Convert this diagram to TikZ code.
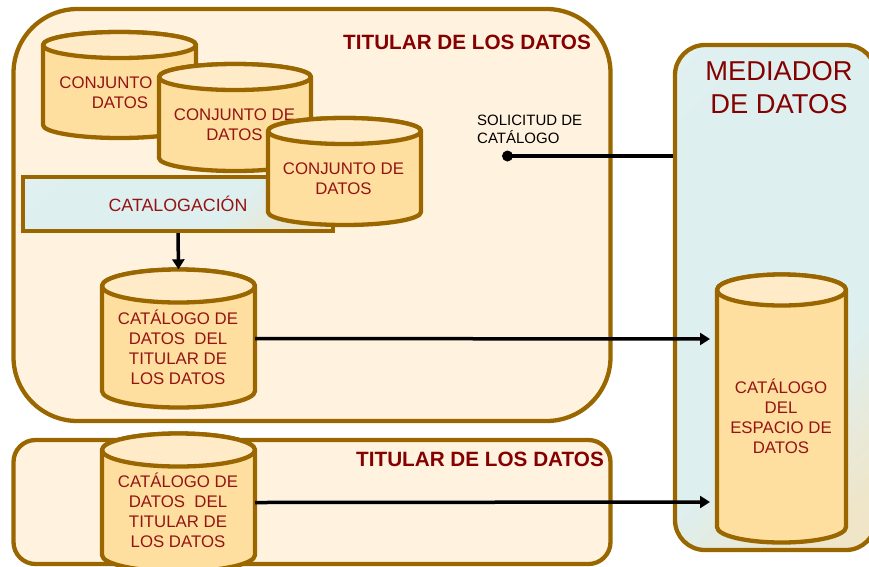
\documentclass[tikz,border=0pt]{standalone}
\usepackage{fontspec}
\setmainfont{Liberation Sans}
\definecolor{edge}{HTML}{996600}
\definecolor{holder}{HTML}{FFF3DF}
\definecolor{cylbody}{HTML}{FFDFA0}
\definecolor{cyltop}{HTML}{FFEBC8}
\definecolor{txt}{HTML}{941414}
\definecolor{head}{HTML}{850000}
\definecolor{tanA}{HTML}{F8E2B0}
\definecolor{tanB}{HTML}{EEE6CC}
\definecolor{tealB}{HTML}{DEEFEF}
\definecolor{tealA}{HTML}{E6F4F5}
\pgfdeclareverticalshading{tealtan}{100bp}{%
  color(0bp)=(tanA);color(22bp)=(tanB);color(38bp)=(tealB);color(75bp)=(tealB);color(100bp)=(tealA)}
\usetikzlibrary{arrows.meta}
\tikzset{
  x=1pt,y=-1pt,
  box/.style={draw=edge,line width=4.3pt,inner sep=0pt,anchor=center},
  holderbox/.style={box,fill=holder},
  tealbox/.style={box,shading=tealtan,shading angle=45},
  cyltext/.style={text=txt,font=\fontsize{16.8}{20}\selectfont,align=center,inner sep=0pt},
  cyloutline/.style={draw=edge,line width=4.3pt,line join=round},
  headtext/.style={text=head,font=\bfseries\fontsize{20.7}{24}\selectfont,inner sep=0pt,anchor=west},
  flow/.style={draw=black,line width=3.5pt,-{Triangle[length=10pt,width=12pt]}},
  plainflow/.style={draw=black,line width=3.5pt},
  bullet/.style={circle,fill=black,inner sep=0pt,minimum size=11pt},
  askt/.style={text=black,font=\fontsize{15}{18}\selectfont,align=left,inner sep=0pt,anchor=west},
}
% name, left, right, top-ellipse centre y, ry, side end y
\newcommand{\drumshape}[6]{%
  \pgfmathsetmacro{\drumrx}{(#3-#2)/2}%
  \pgfmathsetmacro{\drumcx}{(#3+#2)/2}%
  \path[cyloutline,fill=cylbody] (#2,#4) -- (#2,#6)
     arc[start angle=180,end angle=360,x radius=\drumrx pt,y radius=#5 pt]
     -- (#3,#4)
     arc[start angle=0,end angle=180,x radius=\drumrx pt,y radius=#5 pt] -- cycle;
  \path[cyloutline,fill=cyltop] (\drumcx,#4) ellipse[x radius=\drumrx pt,y radius=#5 pt];
  \pgfmathsetmacro{\drumcy}{(#4+#6)/2}%
  \pgfmathsetmacro{\drumw}{#3-#2}%
  \pgfmathsetmacro{\drumh}{#6-#4+2*#5}%
  \node[minimum width=\drumw pt,minimum height=\drumh pt,inner sep=0pt] (#1) at (\drumcx,\drumcy) {};
}
\begin{document}
\begin{tikzpicture}
\useasboundingbox (0,0) rectangle (869,566);
\clip (0,0) rectangle (869,566);
\node[holderbox,rounded corners=64pt,minimum width=597pt,minimum height=412pt] (own1) at (312,215) {};
\node[holderbox,rounded corners=22pt,minimum width=597pt,minimum height=124pt] (own2) at (312,502) {};
\node[tealbox,rounded corners=30pt,minimum width=201pt,minimum height=505pt] (med) at (775.5,297.5) {};

\drumshape{ds1}{43}{196}{45}{13}{125}
\node[cyltext] (ds1t) at (120,92.5) {CONJUNTO DE\\DATOS};
\drumshape{ds2}{159}{311}{77}{13}{158}
\node[cyltext] (ds2t) at (234.5,124.5) {CONJUNTO DE\\DATOS};
\node[tealbox,rounded corners=0pt,minimum width=310pt,minimum height=54pt] (cat) at (178,204) {};
\node[cyltext,font=\fontsize{17.8}{20}\selectfont] (catt) at (178,203.5) {CATALOGACIÓN};
\drumshape{ds3}{268}{421}{131}{13}{212}
\node[cyltext] (ds3t) at (343.5,178.5) {CONJUNTO DE\\DATOS};
\drumshape{own1cat}{102}{255}{286}{16.5}{391}
\node[cyltext] (own1catt) at (178,347) {CATÁLOGO DE\\DATOS\ \ DEL\\TITULAR DE\\LOS DATOS};
\drumshape{own2cat}{102}{255}{450}{16.5}{555}
\node[cyltext] (own2catt) at (178,510.5) {CATÁLOGO DE\\DATOS\ \ DEL\\TITULAR DE\\LOS DATOS};
\drumshape{space}{717}{846}{290}{15.5}{527}
\node[cyltext] (spacet) at (781,416.5) {CATÁLOGO\\DEL\\ESPACIO DE\\DATOS};

\node[headtext] (h1) at (343,42) {TITULAR DE LOS DATOS};
\node[headtext] (h2) at (356,459) {TITULAR DE LOS DATOS};
\node[text=head,font=\fontsize{27.3}{33}\selectfont,align=center,inner sep=0pt] (medt) at (779,87.5) {MEDIADOR\\DE DATOS};
\node[askt] (ask) at (477,129) {SOLICITUD DE\\CATÁLOGO};
\node[bullet] (dot) at (507.5,156) {};

\coordinate (in1) at (710,339);
\coordinate (in2) at (710,502);
\draw[flow] (cat.south) -- (own1cat.north);
\draw[flow] (own1cat.east) -- (in1);
\draw[flow] (own2cat.east) -- (in2);
\draw[plainflow] (dot.center) -- (dot -| med.west);
\end{tikzpicture}
\end{document}
